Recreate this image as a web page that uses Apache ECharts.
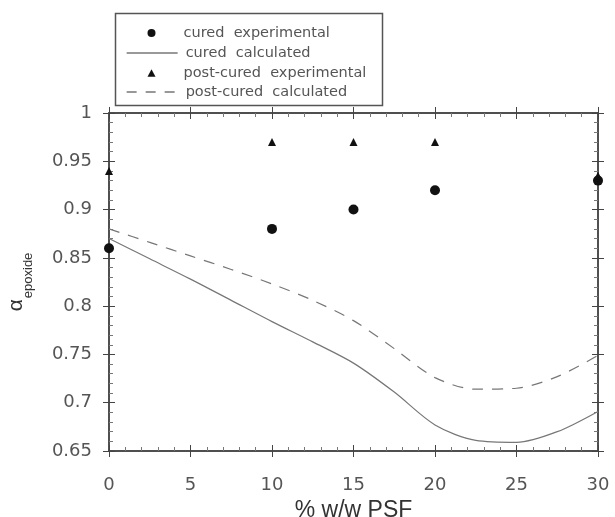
<!DOCTYPE html>
<html><head><meta charset="utf-8">
<script src="https://cdn.jsdelivr.net/npm/echarts@6/dist/echarts.min.js"></script>
<style>html,body{margin:0;padding:0;background:#fff}#c{width:615px;height:517px}</style>
</head><body><div id="c"></div>
<script>
const curedExpX = [0, 10, 15, 20, 30];
const curedExpY = [0.86, 0.88, 0.90, 0.92, 0.93];
const postExpX = [0, 10, 15, 20, 30];
const postExpY = [0.94, 0.97, 0.97, 0.97, 0.935];
const calcX = [0, 2.5, 5, 7.5, 10, 12.5, 15, 17.5, 20, 22.5, 25, 27.5, 30];
const curedCalcY = [0.870, 0.849, 0.828, 0.806, 0.784, 0.763, 0.741, 0.711, 0.677, 0.661, 0.659, 0.670, 0.691];
const postCalcY = [0.880, 0.866, 0.852, 0.838, 0.823, 0.806, 0.785, 0.756, 0.726, 0.714, 0.715, 0.727, 0.749];
const xTicks = [0, 5, 10, 15, 20, 25, 30];
const yTicks = [0.65, 0.7, 0.75, 0.8, 0.85, 0.9, 0.95, 1];
const legendNames = ['cured  experimental','cured  calculated','post-cured  experimental','post-cured  calculated'];

const pair = (xs, ys) => xs.map((x, i) => [x, ys[i]]);
const axisCol = '#444';
const font = 'Liberation Sans, Arial, sans-serif';
const tickFont = 'DejaVu Sans, sans-serif';

function xa(pos, inside, show) {
  return {type:'value', min:0, max:30, interval:5, position:pos,
    axisLine:{show:true, onZero:false, lineStyle:{color:axisCol, width:1.5}},
    axisTick:{show:true, inside:inside, length:6, lineStyle:{color:axisCol}},
    minorTick:{show:inside, splitNumber:5, length:4, lineStyle:{color:'#777'}},
    splitLine:{show:false},
    axisLabel:{show:show, color:'#555', fontSize:18, fontFamily:tickFont, margin:25,
      formatter:v => xTicks.includes(v) ? String(v) : ''},
    name: show ? '% w/w PSF' : '', nameLocation:'middle', nameGap:42,
    nameTextStyle:{fontSize:23, color:'#333', fontFamily:font}};
}
function ya(pos, inside, show) {
  return {type:'value', min:0.65, max:1, interval:0.05, position:pos,
    axisLine:{show:true, onZero:false, lineStyle:{color:axisCol, width:1.5}},
    axisTick:{show:true, inside:inside, length:6, lineStyle:{color:axisCol}},
    minorTick:{show:inside, splitNumber:5, length:4, lineStyle:{color:'#777'}},
    splitLine:{show:false},
    axisLabel:{show:show, color:'#555', fontSize:18, fontFamily:tickFont, margin:17,
      formatter:v => { const r = Math.round(v*100)/100; return yTicks.some(t=>Math.abs(t-r)<1e-9) ? String(r) : ''; }},
    name: show ? '{a|α}{s|epoxide}' : '', nameLocation:'middle', nameGap:74, nameRotate:90,
    nameTextStyle:{rich:{a:{fontSize:21, color:'#333', fontFamily:font},
                        s:{fontSize:13, color:'#333', fontFamily:font, padding:[24,0,0,1]}}}};
}

const rows = [33, 53, 73, 92];
function leg(i, icon, w, h, itemStyle, lineStyle, textPad) {
  return {orient:'vertical', left:126 + (51 - w) / 2, top:rows[i] - 10, padding:0,
    itemWidth:w, itemHeight:h, symbolKeepAspect:true,
    textStyle:{fontSize:14.5, color:'#555', fontFamily:tickFont, padding:[0,0,0,textPad], height:20, lineHeight:20},
    data:[Object.assign({name:legendNames[i]}, icon ? {icon:icon} : {},
      itemStyle ? {itemStyle:itemStyle} : {}, lineStyle ? {lineStyle:lineStyle} : {})]};
}

const chart = echarts.init(document.getElementById('c'), null, {renderer:'canvas'});
chart.setOption({
  animation:false,
  backgroundColor:'#fff',
  grid:{left:109, right:17, top:113, bottom:66, containLabel:false, outerBoundsMode:'none'},
  xAxis:[xa('bottom', true, true), xa('bottom', false, false), xa('top', true, false), xa('top', false, false)],
  yAxis:[ya('left', true, true), ya('left', false, false), ya('right', true, false), ya('right', false, false)],
  graphic:[{type:'rect', shape:{x:115.5, y:13.5, width:267, height:92},
    style:{fill:'none', stroke:'#555', lineWidth:1.5}, silent:true}],
  legend:[
    leg(0, 'circle', 8, 8, {color:'#111'}, null, 23),
    leg(1, null, 51, 14, {opacity:0}, {color:'#777', width:1.3}, 3),
    leg(2, 'path://M0,10L5.5,0L11,10Z', 8, 8, {color:'#111'}, null, 23),
    leg(3, null, 51, 14, {opacity:0}, {color:'#777', width:1.3, type:[10,9]}, 3)
  ],
  series:[
    {name:legendNames[0], type:'scatter', data:pair(curedExpX, curedExpY),
     symbol:'circle', symbolSize:10, itemStyle:{color:'#111', opacity:1}, z:5},
    {name:legendNames[1], type:'line', data:pair(calcX, curedCalcY), smooth:0.3,
     symbol:'circle', showSymbol:false, lineStyle:{color:'#777', width:1.2}, itemStyle:{color:'#777'}},
    {name:legendNames[2], type:'scatter', data:pair(postExpX, postExpY),
     symbol:'triangle', symbolSize:8, itemStyle:{color:'#111', opacity:1}, z:5},
    {name:legendNames[3], type:'line', data:pair(calcX, postCalcY), smooth:0.3,
     symbol:'circle', showSymbol:false, lineStyle:{color:'#777', width:1.2, type:[11,9]}, itemStyle:{color:'#777'}}
  ]
});
</script></body></html>
